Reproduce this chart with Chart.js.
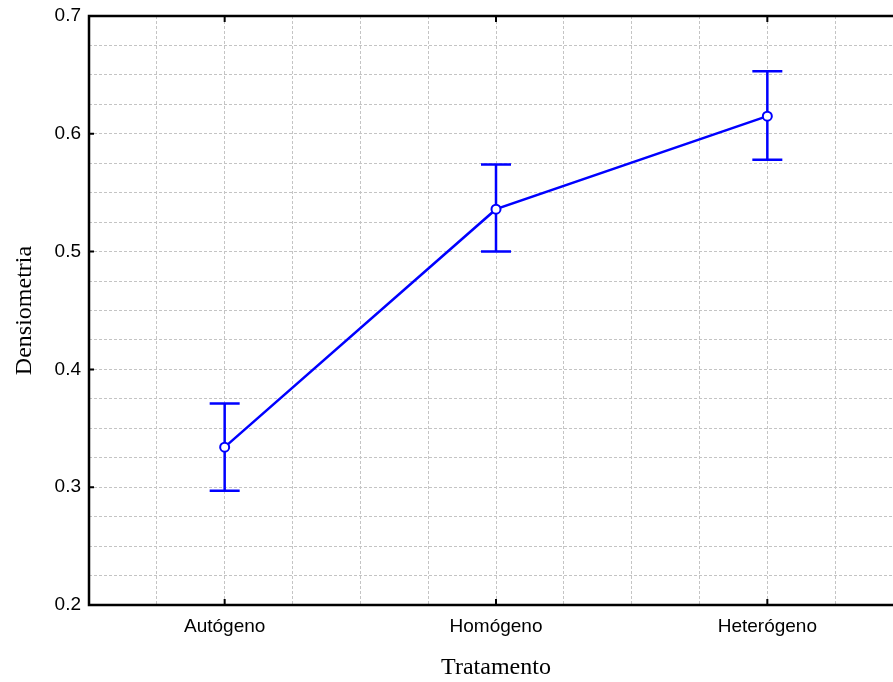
<!DOCTYPE html>
<html>
<head>
<meta charset="utf-8">
<title>Densiometria por tratamento</title>
<script src="https://cdn.jsdelivr.net/npm/chart.js@4"></script>
<style>
  html, body { margin: 0; padding: 0; background: #fff; overflow: hidden; }
  /* o gráfico original é cortado na borda direita: o quadro vai até 903px */
  #wrap { width: 903px; height: 682px; }
</style>
</head>
<body>
<div id="wrap"><canvas id="chart"></canvas></div>
<script>
// dados (média e intervalo de cada tratamento)
const categorias = ['Autógeno', 'Homógeno', 'Heterógeno'];
const medias = [0.334, 0.536, 0.615];
const limiteSup = [0.371, 0.574, 0.653];
const limiteInf = [0.297, 0.500, 0.578];
const yTicks = [0.2, 0.3, 0.4, 0.5, 0.6, 0.7];

const AZUL = '#0000ff';
const fonteEixo = { family: '"Liberation Sans", Arial, sans-serif', size: 19 };
const fonteTitulo = { family: '"Liberation Serif", "Times New Roman", serif', size: 24 };

// grade: linhas a cada 0.25 categoria no x e 0.025 no y
function gradeX() {
    const t = [];
    for (let k = 0; k <= 12; k++) t.push({ value: -0.5 + k * 0.25 });
    return t;
}
function gradeY() {
    const t = [];
    for (let k = 0; k <= 20; k++) t.push({ value: Math.round((0.2 + k * 0.025) * 1000) / 1000 });
    return t;
}

// tira a folga que o Chart.js reserva para os rótulos das pontas
function semFolga(s) {
    s.paddingTop = 0; s.paddingBottom = 0;
    s.paddingLeft = 0; s.paddingRight = 0;
}

// moldura, marcas internas e barras de erro
const molduraPlugin = {
    id: 'moldura',
    beforeDatasetsDraw(chart) {
        const ctx = chart.ctx;
        const x = chart.scales.x, y = chart.scales.y;
        ctx.save();
        ctx.strokeStyle = AZUL;
        ctx.lineWidth = 2.5;
        medias.forEach((m, i) => {
            const px = x.getPixelForValue(i);
            const top = y.getPixelForValue(limiteSup[i]);
            const bot = y.getPixelForValue(limiteInf[i]);
            ctx.beginPath();
            ctx.moveTo(px, top); ctx.lineTo(px, bot);
            ctx.moveTo(px - 15, top); ctx.lineTo(px + 15, top);
            ctx.moveTo(px - 15, bot); ctx.lineTo(px + 15, bot);
            ctx.stroke();
        });
        ctx.restore();
    },
    afterDraw(chart) {
        const ctx = chart.ctx;
        const a = chart.chartArea;
        const x = chart.scales.x, y = chart.scales.y;
        ctx.save();
        ctx.strokeStyle = '#000';
        ctx.lineWidth = 2;
        ctx.beginPath();
        yTicks.forEach(v => {
            const py = y.getPixelForValue(v);
            ctx.moveTo(a.left, py); ctx.lineTo(a.left + 5, py);
        });
        categorias.forEach((c, i) => {
            const px = x.getPixelForValue(i);
            ctx.moveTo(px, a.top); ctx.lineTo(px, a.top + 6);
            ctx.moveTo(px, a.bottom); ctx.lineTo(px, a.bottom - 6);
        });
        ctx.stroke();
        ctx.lineWidth = 2.5;
        ctx.beginPath();
        ctx.moveTo(a.right, a.top);
        ctx.lineTo(a.left, a.top);
        ctx.lineTo(a.left, a.bottom);
        ctx.lineTo(a.right, a.bottom);
        ctx.stroke();
        ctx.restore();
    }
};

new Chart(document.getElementById('chart'), {
    type: 'line',
    data: {
        datasets: [{
            data: medias.map((m, i) => ({ x: i, y: m })),
            borderColor: AZUL,
            borderWidth: 2.5,
            pointRadius: 4.5,
            pointBorderWidth: 2,
            pointBackgroundColor: '#fff',
            pointBorderColor: AZUL,
            tension: 0
        }]
    },
    options: {
        responsive: true,
        maintainAspectRatio: false,
        animation: false,
        layout: { autoPadding: false, padding: { top: 16, right: 0, bottom: 0, left: 0 } },
        plugins: { legend: { display: false }, tooltip: { enabled: false } },
        scales: {
            x: {
                type: 'linear',
                min: -0.5,
                max: 2.5,
                afterBuildTicks: s => { s.ticks = gradeX(); },
                afterFit: s => { s.height = 77; semFolga(s); },
                grid: { color: '#c4c4c4', lineWidth: 1, drawTicks: false },
                border: { display: false, dash: [3, 2] },
                ticks: {
                    autoSkip: false,
                    maxRotation: 0,
                    padding: 10,
                    color: '#000',
                    font: fonteEixo,
                    callback: v => Number.isInteger(v) && categorias[v] ? categorias[v] : ''
                },
                title: { display: true, text: 'Tratamento', color: '#000', font: fonteTitulo, padding: { top: 0, bottom: 0 } }
            },
            y: {
                min: 0.2,
                max: 0.7,
                afterBuildTicks: s => { s.ticks = gradeY(); },
                afterFit: s => { s.width = 89; semFolga(s); },
                grid: { color: '#c4c4c4', lineWidth: 1, drawTicks: false },
                border: { display: false, dash: [3, 2] },
                ticks: {
                    autoSkip: false,
                    padding: 8,
                    color: '#000',
                    font: fonteEixo,
                    callback: v => yTicks.some(t => Math.abs(t - v) < 1e-6) ? v.toFixed(1) : ''
                },
                title: { display: true, text: 'Densiometria', color: '#000', font: fonteTitulo, padding: { top: 10, bottom: 0 } }
            }
        }
    },
    plugins: [molduraPlugin]
});
</script>
</body>
</html>
